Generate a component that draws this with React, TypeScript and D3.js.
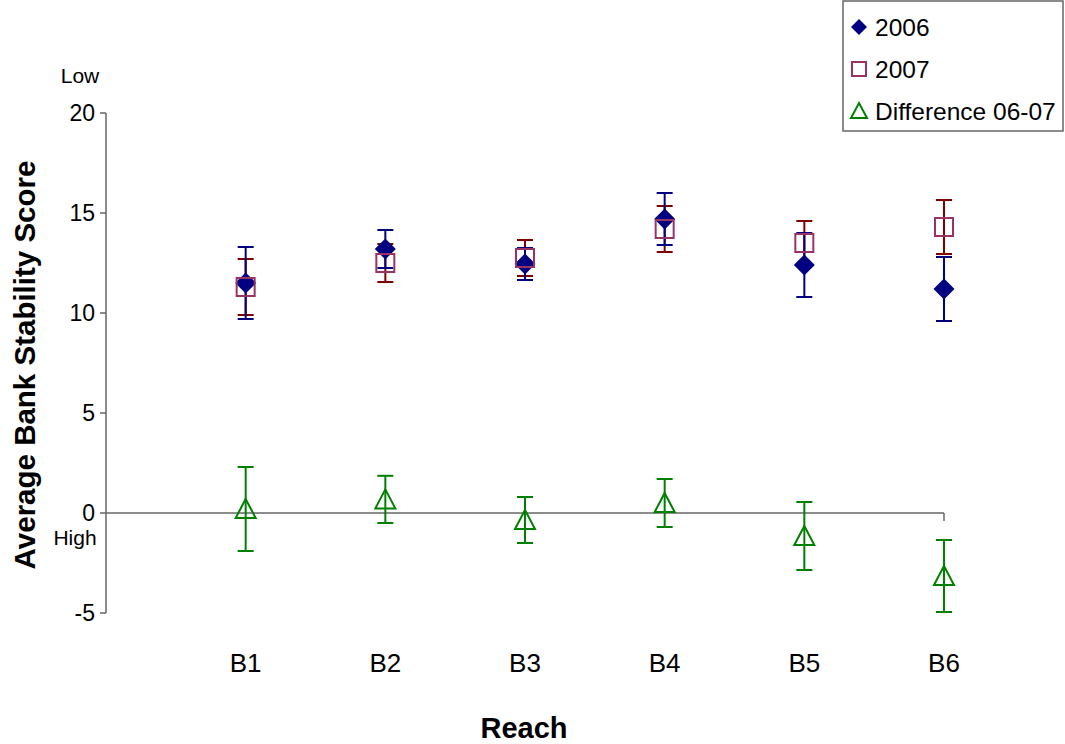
import React from "react";
import * as d3 from "d3";

const categories = ["B1", "B2", "B3", "B4", "B5", "B6"];
const values2006 = [11.5, 13.2, 12.45, 14.7, 12.4, 11.2];
const err2006 = [1.8, 0.95, 0.8, 1.3, 1.6, 1.6];
const values2007 = [11.3, 12.5, 12.75, 14.2, 13.5, 14.3];
const err2007 = [1.4, 0.95, 0.9, 1.15, 1.1, 1.35];
const valuesDiff = [0.2, 0.68, -0.35, 0.5, -1.15, -3.15];
const errDiff = [2.1, 1.18, 1.15, 1.2, 1.7, 1.8];
const yTicks = [-5, 0, 5, 10, 15, 20];
const legendLabels = ["2006", "2007", "Difference 06-07"];

const W = 1065;
const H = 744;
const FONT = "Liberation Sans, Arial, sans-serif";

const BLUE = "#000080";
const DARKRED = "#800000";
const PLUM = "#993366";
const GREEN = "#008000";

export default function App() {
  const x = d3.scaleLinear().domain([0, 6]).range([106, 944]);
  const y = d3.scaleLinear().domain([-5, 20]).range([613, 113]);

  const diamond = (cx: number, cy: number, r: number) =>
    `M${cx},${cy - r}L${cx + r},${cy}L${cx},${cy + r}L${cx - r},${cy}Z`;
  const triangle = (cx: number, cy: number) =>
    `M${cx},${cy - 10}L${cx + 10},${cy + 9}L${cx - 10},${cy + 9}Z`;

  const errBar = (i: number, v: number, e: number, color: string, key: string) => {
    const cx = x(i + 1);
    const y1 = y(v + e);
    const y2 = y(v - e);
    return (
      <g key={key} stroke={color} strokeWidth={2}>
        <line x1={cx} x2={cx} y1={y1} y2={y2} />
        <line x1={cx - 8} x2={cx + 8} y1={y1} y2={y1} />
        <line x1={cx - 8} x2={cx + 8} y1={y2} y2={y2} />
      </g>
    );
  };

  return (
    <svg
      width={W}
      height={H}
      style={{ position: "absolute", left: 0, top: 0, background: "#fff" }}
      fontFamily={FONT}
    >
      <rect x={0} y={0} width={W} height={H} fill="#fff" />
      {/* Y axis */}
      <line x1={x(0)} x2={x(0)} y1={y(20)} y2={y(-5)} stroke="#666" strokeWidth={1.5} />
      {yTicks.map((t) => (
        <g key={t}>
          <line x1={x(0) - 6} x2={x(0)} y1={y(t)} y2={y(t)} stroke="#666" strokeWidth={1.5} />
          <text x={x(0) - 11} y={y(t)} dy="0.35em" textAnchor="end" fontSize={23} fill="#000">
            {t}
          </text>
        </g>
      ))}
      {/* X axis at 0 */}
      <line x1={x(0)} x2={x(6)} y1={y(0)} y2={y(0)} stroke="#666" strokeWidth={1.5} />
      <line x1={x(6)} x2={x(6)} y1={y(0)} y2={y(0) + 8} stroke="#666" strokeWidth={1.5} />
      <text x={80} y={76} dy="0.35em" textAnchor="middle" fontSize={21}>Low</text>
      <text x={75} y={538} dy="0.35em" textAnchor="middle" fontSize={21}>High</text>

      {categories.map((c, i) => (
        <text key={c} x={x(i + 1)} y={663} dy="0.35em" textAnchor="middle" fontSize={26}>
          {c}
        </text>
      ))}

      {/* Error bars */}
      {values2007.map((v, i) => errBar(i, v, err2007[i], DARKRED, "e7" + i))}
      {values2006.map((v, i) => errBar(i, v, err2006[i], BLUE, "e6" + i))}
      {valuesDiff.map((v, i) => errBar(i, v, errDiff[i], GREEN, "ed" + i))}

      {/* Markers */}
      {values2006.map((v, i) => (
        <path key={"m6" + i} d={diamond(x(i + 1), y(v), 10.5)} fill={BLUE} />
      ))}
      {values2007.map((v, i) => (
        <rect
          key={"m7" + i}
          x={x(i + 1) - 9}
          y={y(v) - 9}
          width={18}
          height={18}
          fill="none"
          stroke={PLUM}
          strokeWidth={2}
        />
      ))}
      {valuesDiff.map((v, i) => (
        <path key={"md" + i} d={triangle(x(i + 1), y(v))} fill="none" stroke={GREEN} strokeWidth={2} />
      ))}

      {/* Axis titles */}
      <text x={524} y={728} dy="0.35em" textAnchor="middle" fontSize={29} fontWeight="bold">
        Reach
      </text>
      <text
        transform={`translate(25,365) rotate(-90)`}
        dy="0.35em"
        textAnchor="middle"
        fontSize={29.5}
        fontWeight="bold"
      >
        Average Bank Stability Score
      </text>

      {/* Legend */}
      <rect x={843} y={1} width={220} height={130} fill="#fff" stroke="#666" strokeWidth={1.5} />
      {legendLabels.map((l, i) => {
        const cy = 27 + i * 42;
        const mx = 859;
        return (
          <g key={l}>
            {i === 0 && <path d={diamond(mx, cy, 8)} fill={BLUE} />}
            {i === 1 && (
              <rect x={mx - 7} y={cy - 7} width={14} height={14} fill="none" stroke={PLUM} strokeWidth={2} />
            )}
            {i === 2 && (
              <path
                d={`M${mx},${cy - 8}L${mx + 8},${cy + 7}L${mx - 8},${cy + 7}Z`}
                fill="none"
                stroke={GREEN}
                strokeWidth={2}
              />
            )}
            <text x={875} y={cy} dy="0.35em" fontSize={24.5}>
              {l}
            </text>
          </g>
        );
      })}
    </svg>
  );
}
